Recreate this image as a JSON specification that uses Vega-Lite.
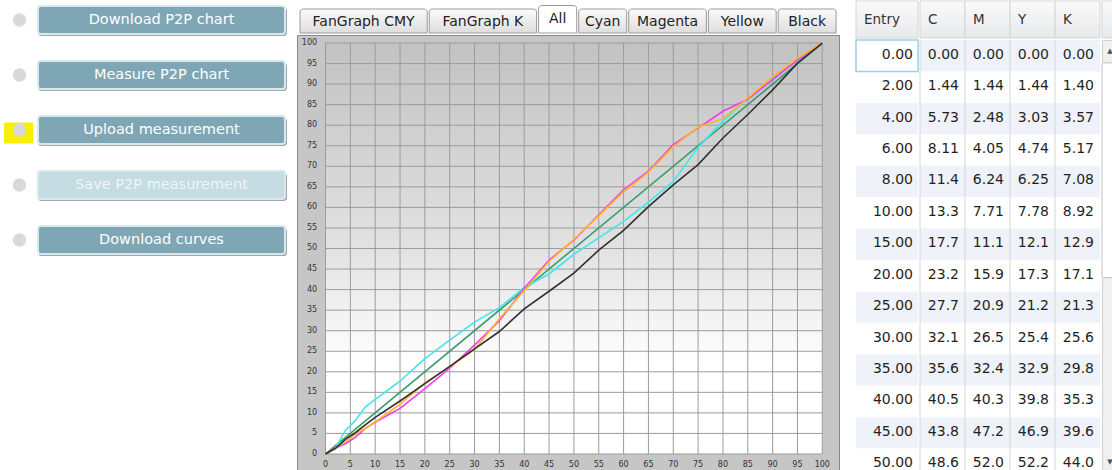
{
  "$schema": "https://vega.github.io/schema/vega-lite/v6.json",
  "padding": 0,
  "autosize": {"type": "pad"},
  "background": "#ffffff",
  "config": {"view": {"stroke": null}, "font": "DejaVu Sans"},
  "datasets": {
    "curves": [
      {"Entry": 0, "C": 0, "M": 0, "Y": 0, "K": 0},
      {"Entry": 2, "C": 1.44, "M": 1.44, "Y": 1.44, "K": 1.40},
      {"Entry": 4, "C": 5.73, "M": 2.48, "Y": 3.03, "K": 3.57},
      {"Entry": 6, "C": 8.11, "M": 4.05, "Y": 4.74, "K": 5.17},
      {"Entry": 8, "C": 11.4, "M": 6.24, "Y": 6.25, "K": 7.08},
      {"Entry": 10, "C": 13.3, "M": 7.71, "Y": 7.78, "K": 8.92},
      {"Entry": 15, "C": 17.7, "M": 11.1, "Y": 12.1, "K": 12.9},
      {"Entry": 20, "C": 23.2, "M": 15.9, "Y": 17.3, "K": 17.1},
      {"Entry": 25, "C": 27.7, "M": 20.9, "Y": 21.2, "K": 21.3},
      {"Entry": 30, "C": 32.1, "M": 26.5, "Y": 25.4, "K": 25.6},
      {"Entry": 35, "C": 35.6, "M": 32.4, "Y": 32.9, "K": 29.8},
      {"Entry": 40, "C": 40.5, "M": 40.3, "Y": 39.8, "K": 35.3},
      {"Entry": 45, "C": 43.8, "M": 47.2, "Y": 46.9, "K": 39.6},
      {"Entry": 50, "C": 48.6, "M": 52.0, "Y": 52.2, "K": 44.0},
      {"Entry": 55, "C": 52.6, "M": 58.2, "Y": 58.0, "K": 49.6},
      {"Entry": 60, "C": 56.6, "M": 64.3, "Y": 63.8, "K": 54.4},
      {"Entry": 65, "C": 61.3, "M": 68.8, "Y": 68.6, "K": 60.2},
      {"Entry": 70, "C": 66.3, "M": 75.3, "Y": 74.8, "K": 65.5},
      {"Entry": 75, "C": 74.6, "M": 79.3, "Y": 79.5, "K": 70.4},
      {"Entry": 80, "C": 81.0, "M": 83.4, "Y": 81.6, "K": 76.9},
      {"Entry": 85, "C": 86.5, "M": 86.3, "Y": 86.6, "K": 82.6},
      {"Entry": 90, "C": 91.2, "M": 91.1, "Y": 91.8, "K": 88.6},
      {"Entry": 95, "C": 95.8, "M": 95.9, "Y": 96.3, "K": 95.1},
      {"Entry": 100, "C": 100, "M": 100, "Y": 100, "K": 100}
    ],
    "buttons": [
      {"label": "Download P2P chart", "enabled": true, "flagged": false},
      {"label": "Measure P2P chart", "enabled": true, "flagged": false},
      {"label": "Upload measurement", "enabled": true, "flagged": true},
      {"label": "Save P2P measurement", "enabled": false, "flagged": false},
      {"label": "Download curves", "enabled": true, "flagged": false}
    ],
    "tabs": [
      {"tab": "FanGraph CMY", "selected": false},
      {"tab": "FanGraph K", "selected": false},
      {"tab": "All", "selected": true},
      {"tab": "Cyan", "selected": false},
      {"tab": "Magenta", "selected": false},
      {"tab": "Yellow", "selected": false},
      {"tab": "Black", "selected": false}
    ],
    "ticks": [
      {"t": 0}, {"t": 5}, {"t": 10}, {"t": 15}, {"t": 20}, {"t": 25}, {"t": 30},
      {"t": 35}, {"t": 40}, {"t": 45}, {"t": 50}, {"t": 55}, {"t": 60}, {"t": 65},
      {"t": 70}, {"t": 75}, {"t": 80}, {"t": 85}, {"t": 90}, {"t": 95}, {"t": 100}
    ]
  },
  "spacing": 9,
  "hconcat": [
    {
      "spacing": 0,
      "hconcat": [
        {
          "width": 37,
          "height": 258,
          "data": {"name": "buttons"},
          "encoding": {
            "y": {"field": "label", "type": "nominal", "sort": null, "axis": null,
                  "scale": {"type": "band", "paddingInner": 0.49, "paddingOuter": 0.09}}
          },
          "layer": [
            {
              "mark": {"type": "point", "shape": "M -1.38 -1 L 1.38 -1 L 1.38 1 L -1.38 1 Z",
                       "filled": true, "size": 441, "color": "#f7f000", "yOffset": 3, "strokeWidth": 0},
              "encoding": {"opacity": {"condition": {"test": "datum.flagged", "value": 1}, "value": 0}}
            },
            {"mark": {"type": "circle", "size": 180, "color": "#d9d9d9", "opacity": 1, "xOffset": 1}}
          ]
        },
        {
          "width": 247,
          "height": 258,
          "data": {"name": "buttons"},
          "encoding": {
            "y": {"field": "label", "type": "nominal", "sort": null, "axis": null,
                  "scale": {"type": "band", "paddingInner": 0.49, "paddingOuter": 0.09}}
          },
          "layer": [
            {"mark": {"type": "rect", "color": "#5e5e5e", "opacity": 0.55, "cornerRadius": 3,
                      "xOffset": 2, "x2Offset": 2, "yOffset": 2, "y2Offset": 2}},
            {"mark": {"type": "rect", "cornerRadius": 3, "stroke": "#d7e8ee", "strokeWidth": 2},
             "encoding": {"fill": {"condition": {"test": "datum.enabled", "value": "#7ea6b5"}, "value": "#c5dce3"}}},
            {"mark": {"type": "text", "fontSize": 14.5, "font": "DejaVu Sans", "baseline": "middle"},
             "encoding": {"text": {"field": "label"},
                          "color": {"condition": {"test": "datum.enabled", "value": "#ffffff"}, "value": "#eef6f8"}}}
          ]
        }
      ]
    },
    {
      "spacing": 15,
      "hconcat": [
        {
          "spacing": 0,
          "vconcat": [
            {
              "width": 542,
              "height": 32,
              "data": {"name": "tabs"},
              "transform": [
                {"calculate": "9.9*length(datum.tab)+8.4", "as": "w"},
                {"window": [{"op": "sum", "field": "w", "as": "cw"}, {"op": "row_number", "as": "i"}], "frame": [null, 0]},
                {"calculate": "3 + datum.cw - datum.w + 2*(datum.i-1)", "as": "x1"},
                {"calculate": "datum.x1 + datum.w", "as": "x2"},
                {"calculate": "(datum.x1 + datum.x2)/2", "as": "xm"}
              ],
              "layer": [
                {
                  "transform": [{"filter": "!datum.selected"}],
                  "mark": {"type": "rect", "stroke": "#9a9a9a", "strokeWidth": 1,
                           "cornerRadiusTopLeft": 3, "cornerRadiusTopRight": 3,
                           "fill": {"gradient": "linear", "x1": 0, "y1": 0, "x2": 0, "y2": 1,
                                    "stops": [{"offset": 0, "color": "#fbfbfb"}, {"offset": 1, "color": "#dedede"}]}},
                  "encoding": {
                    "x": {"field": "x1", "type": "quantitative", "axis": null,
                          "scale": {"domain": [0, 542], "nice": false, "zero": false}},
                    "x2": {"field": "x2"},
                    "y": {"datum": 0, "type": "quantitative", "axis": null,
                          "scale": {"domain": [0, 1], "nice": false, "zero": false}},
                    "y2": {"datum": 0.75}
                  }
                },
                {
                  "transform": [{"filter": "datum.selected"}],
                  "mark": {"type": "rect", "fill": "#ffffff", "stroke": "#9a9a9a", "strokeWidth": 1,
                           "cornerRadiusTopLeft": 3, "cornerRadiusTopRight": 3},
                  "encoding": {
                    "x": {"field": "x1", "type": "quantitative", "axis": null},
                    "x2": {"field": "x2"},
                    "y": {"datum": 0, "type": "quantitative", "axis": null},
                    "y2": {"datum": 0.86}
                  }
                },
                {
                  "transform": [{"filter": "!datum.selected"}],
                  "mark": {"type": "text", "fontSize": 14, "color": "#222222", "baseline": "middle"},
                  "encoding": {
                    "x": {"field": "xm", "type": "quantitative", "axis": null},
                    "y": {"datum": 0.34, "type": "quantitative", "axis": null},
                    "text": {"field": "tab"}
                  }
                },
                {
                  "transform": [{"filter": "datum.selected"}],
                  "mark": {"type": "text", "fontSize": 14, "color": "#222222", "baseline": "middle"},
                  "encoding": {
                    "x": {"field": "xm", "type": "quantitative", "axis": null},
                    "y": {"datum": 0.44, "type": "quantitative", "axis": null},
                    "text": {"field": "tab"}
                  }
                }
              ]
            },
            {
              "width": 542,
              "height": 445,
              "view": {"fill": "#c6c6c6", "stroke": "#8a8a8a", "strokeWidth": 1},
              "layer": [
                {
                  "data": {"values": [{}]},
                  "mark": {"type": "rect",
                           "fill": {"gradient": "linear", "x1": 0, "y1": 0, "x2": 0, "y2": 1,
                                    "stops": [{"offset": 0, "color": "#c2c2c2"}, {"offset": 0.5, "color": "#e2e2e2"},
                                              {"offset": 0.78, "color": "#ffffff"}, {"offset": 1, "color": "#ffffff"}]}},
                  "encoding": {
                    "x": {"datum": 0, "type": "quantitative", "axis": null,
                          "scale": {"domain": [-5.74, 103.36], "nice": false, "zero": false}},
                    "x2": {"datum": 100},
                    "y": {"datum": 0, "type": "quantitative", "axis": null,
                          "scale": {"domain": [-6.33, 101.95], "nice": false, "zero": false}},
                    "y2": {"datum": 100}
                  }
                },
                {
                  "data": {"name": "ticks"},
                  "mark": {"type": "rule", "color": "#9b9b9b", "strokeWidth": 1},
                  "encoding": {
                    "x": {"field": "t", "type": "quantitative", "axis": null},
                    "y": {"datum": 0, "type": "quantitative", "axis": null},
                    "y2": {"datum": 100}
                  }
                },
                {
                  "data": {"name": "ticks"},
                  "mark": {"type": "rule", "color": "#9b9b9b", "strokeWidth": 1},
                  "encoding": {
                    "y": {"field": "t", "type": "quantitative", "axis": null},
                    "x": {"datum": 0, "type": "quantitative", "axis": null},
                    "x2": {"datum": 100}
                  }
                },
                {
                  "data": {"name": "ticks"},
                  "mark": {"type": "text", "fontSize": 8, "color": "#333333", "align": "center", "baseline": "middle"},
                  "encoding": {
                    "x": {"field": "t", "type": "quantitative", "axis": null},
                    "y": {"datum": -2.7, "type": "quantitative", "axis": null},
                    "text": {"field": "t"}
                  }
                },
                {
                  "data": {"name": "ticks"},
                  "mark": {"type": "text", "fontSize": 8, "color": "#333333", "align": "right", "baseline": "middle"},
                  "encoding": {
                    "y": {"field": "t", "type": "quantitative", "axis": null},
                    "x": {"datum": -1.7, "type": "quantitative", "axis": null},
                    "text": {"field": "t"}
                  }
                },
                {
                  "data": {"values": [{}]},
                  "mark": {"type": "rule", "color": "#3a9d6c", "strokeWidth": 1.6},
                  "encoding": {
                    "x": {"datum": 0, "type": "quantitative", "axis": null},
                    "x2": {"datum": 100},
                    "y": {"datum": 0, "type": "quantitative", "axis": null},
                    "y2": {"datum": 100}
                  }
                },
                {
                  "data": {"name": "curves"},
                  "transform": [{"fold": ["C", "M", "Y", "K"], "as": ["ch", "val"]}],
                  "mark": {"type": "line", "strokeWidth": 1.6},
                  "encoding": {
                    "x": {"field": "Entry", "type": "quantitative", "axis": null},
                    "y": {"field": "val", "type": "quantitative", "axis": null},
                    "color": {"field": "ch", "type": "nominal", "legend": null,
                              "scale": {"domain": ["C", "M", "Y", "K"],
                                        "range": ["#3fe6f2", "#f03cf0", "#ffb526", "#303030"]}}
                  }
                }
              ]
            }
          ]
        },
        {
          "spacing": 0,
          "hconcat": [
            {
              "spacing": 0,
              "vconcat": [
                {
                  "width": 62,
                  "height": 37,
                  "data": {"values": [{"h": "Entry"}]},
                  "layer": [
                    {"mark": {"type": "rect", "stroke": "#d4d4d4", "strokeWidth": 1,
                              "fill": {"gradient": "linear", "x1": 0, "y1": 0, "x2": 0, "y2": 1,
                                       "stops": [{"offset": 0, "color": "#fafafa"}, {"offset": 1, "color": "#e8e9eb"}]}}},
                    {"mark": {"type": "text", "fontSize": 13.5, "color": "#333333", "align": "left", "dx": -23, "baseline": "middle"},
                     "encoding": {"text": {"field": "h"}}}
                  ]
                },
                {
                  "width": 62,
                  "height": 440,
                  "data": {"name": "curves"},
                  "transform": [
                    {"filter": "datum.Entry <= 50"},
                    {"window": [{"op": "row_number", "as": "rn"}], "sort": [{"field": "Entry"}]}
                  ],
                  "encoding": {
                    "y": {"field": "Entry", "type": "ordinal", "axis": null,
                          "scale": {"type": "band", "paddingInner": 0, "paddingOuter": 0}}
                  },
                  "layer": [
                    {"mark": {"type": "rect"},
                     "encoding": {"fill": {"condition": {"test": "datum.rn % 2 == 1 && datum.rn > 1", "value": "#eff3f9"}, "value": "#ffffff"}}},
                    {"transform": [{"filter": "datum.rn == 1"}],
                     "mark": {"type": "rect", "fill": "#ffffff", "stroke": "#9dd0e3", "strokeWidth": 1.5}},
                    {"mark": {"type": "text", "fontSize": 14, "color": "#1f1f1f", "align": "right", "dx": 26, "baseline": "middle", "dy": -1},
                     "encoding": {"text": {"field": "Entry", "format": ".2f"}}}
                  ]
                }
              ]
            },
            {
              "spacing": 0,
              "vconcat": [
                {
                  "width": 180,
                  "height": 37,
                  "data": {"values": [{"ch": "C"}, {"ch": "M"}, {"ch": "Y"}, {"ch": "K"}]},
                  "encoding": {
                    "x": {"field": "ch", "type": "nominal", "axis": null,
                          "scale": {"type": "band", "domain": ["C", "M", "Y", "K"], "paddingInner": 0, "paddingOuter": 0}}
                  },
                  "layer": [
                    {"mark": {"type": "rect", "stroke": "#d4d4d4", "strokeWidth": 1,
                              "fill": {"gradient": "linear", "x1": 0, "y1": 0, "x2": 0, "y2": 1,
                                       "stops": [{"offset": 0, "color": "#fafafa"}, {"offset": 1, "color": "#e8e9eb"}]}}},
                    {"mark": {"type": "text", "fontSize": 13.5, "color": "#333333", "align": "left", "dx": 8, "baseline": "middle"},
                     "encoding": {"x": {"field": "ch", "type": "nominal", "bandPosition": 0}, "text": {"field": "ch"}}}
                  ]
                },
                {
                  "width": 180,
                  "height": 440,
                  "data": {"name": "curves"},
                  "transform": [
                    {"filter": "datum.Entry <= 50"},
                    {"window": [{"op": "row_number", "as": "rn"}], "sort": [{"field": "Entry"}]},
                    {"fold": ["C", "M", "Y", "K"], "as": ["ch", "val"]},
                    {"calculate": "datum.val == 0 ? '0.00' : format(datum.val, '.3r')", "as": "label"}
                  ],
                  "encoding": {
                    "y": {"field": "Entry", "type": "ordinal", "axis": null,
                          "scale": {"type": "band", "paddingInner": 0, "paddingOuter": 0}},
                    "x": {"field": "ch", "type": "nominal", "axis": null,
                          "scale": {"type": "band", "domain": ["C", "M", "Y", "K"], "paddingInner": 0, "paddingOuter": 0}}
                  },
                  "layer": [
                    {"mark": {"type": "rect"},
                     "encoding": {"fill": {"condition": {"test": "datum.rn % 2 == 1", "value": "#eff3f9"}, "value": "#ffffff"}}},
                    {"transform": [{"aggregate": [], "groupby": ["ch"]}],
                     "mark": {"type": "rule", "color": "#d6d6d6", "strokeWidth": 1},
                     "encoding": {"y": null, "x": {"field": "ch", "type": "nominal", "bandPosition": 0}}},
                    {"mark": {"type": "text", "fontSize": 14, "color": "#1f1f1f", "align": "right", "dx": -6, "baseline": "middle", "dy": -1},
                     "encoding": {"x": {"field": "ch", "type": "nominal", "bandPosition": 1},
                                  "text": {"field": "label"}}}
                  ]
                }
              ]
            },
            {
              "spacing": 0,
              "vconcat": [
                {
                  "width": 16,
                  "height": 37,
                  "data": {"values": [{}]},
                  "mark": {"type": "rect", "stroke": "#d4d4d4", "strokeWidth": 1,
                           "fill": {"gradient": "linear", "x1": 0, "y1": 0, "x2": 0, "y2": 1,
                                    "stops": [{"offset": 0, "color": "#fafafa"}, {"offset": 1, "color": "#e8e9eb"}]}}
                },
                {
                  "width": 16,
                  "height": 440,
                  "view": {"fill": "#f0f0f0", "stroke": "#d0d0d0", "strokeWidth": 1},
                  "data": {"values": [{}]},
                  "layer": [
                    {"mark": {"type": "rect", "fill": "#ffffff", "stroke": "#c2c2c2", "strokeWidth": 1, "cornerRadius": 2,
                              "xOffset": 1, "x2Offset": -1},
                     "encoding": {"y": {"datum": 5.2, "type": "quantitative", "axis": null,
                                        "scale": {"domain": [0, 100], "reverse": true, "nice": false, "zero": false}},
                                  "y2": {"datum": 54}}},
                    {"mark": {"type": "text", "text": "▲", "fontSize": 7, "color": "#505050", "baseline": "middle"},
                     "encoding": {"y": {"datum": 2.5, "type": "quantitative", "axis": null}}},
                    {"mark": {"type": "text", "text": "▼", "fontSize": 7, "color": "#505050", "baseline": "middle"},
                     "encoding": {"y": {"datum": 96, "type": "quantitative", "axis": null}}}
                  ]
                }
              ]
            }
          ]
        }
      ]
    }
  ]
}
